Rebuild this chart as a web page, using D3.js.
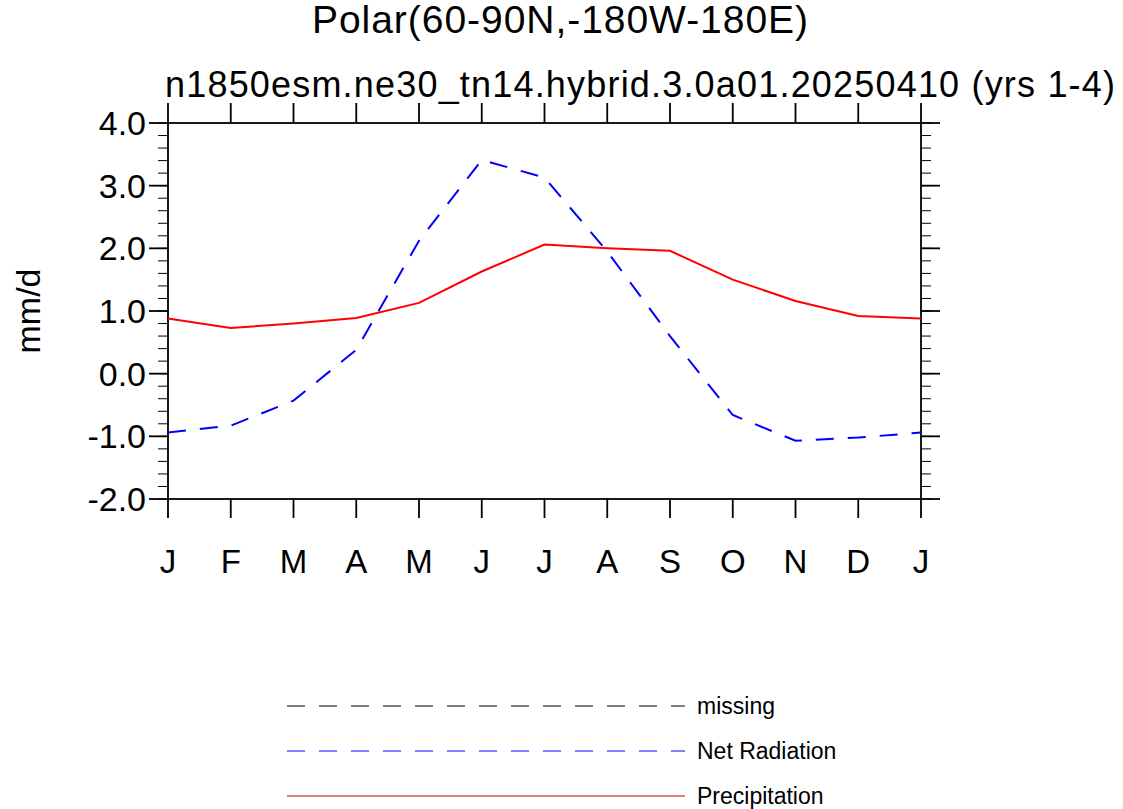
<!DOCTYPE html><html><head><script src="https://cdn.jsdelivr.net/npm/d3@7"></script>
<style>body{margin:0;background:#fff}text{font-family:"Liberation Sans",Arial,sans-serif}</style></head><body>
<svg id="c" width="1123" height="809"></svg>
<script>
const months=["J","F","M","A","M","J","J","A","S","O","N","D","J"];
const precip=[0.88,0.73,0.80,0.89,1.13,1.63,2.06,2.00,1.96,1.50,1.16,0.92,0.88];
const netrad=[-0.94,-0.83,-0.43,0.38,2.12,3.41,3.13,1.95,0.60,-0.66,-1.07,-1.02,-0.94];
const yTicks=[-2,-1,0,1,2,3,4];
const svg=d3.select("#c");
const L=168,R=921,T=123,B=499;
const x=d3.scaleLinear().domain([0,12]).range([L,R]);
const y=d3.scaleLinear().domain([-2,4]).range([B,T]);
const g=svg.append("g");
const minor=d3.range(-2,4.001,0.2);
minor.forEach(v=>{
 g.append("line").attr("x1",L-10).attr("x2",L).attr("y1",y(v)).attr("y2",y(v)).attr("stroke","#000");
 g.append("line").attr("x1",R).attr("x2",R+10).attr("y1",y(v)).attr("y2",y(v)).attr("stroke","#000");
});
yTicks.forEach(v=>{
 g.append("line").attr("x1",L-19).attr("x2",L).attr("y1",y(v)).attr("y2",y(v)).attr("stroke","#000").attr("stroke-width",1.8);
 g.append("line").attr("x1",R).attr("x2",R+19).attr("y1",y(v)).attr("y2",y(v)).attr("stroke","#000").attr("stroke-width",1.8);
 g.append("text").attr("x",L-22).attr("y",y(v)+12).attr("text-anchor","end").attr("font-size",34).text(v.toFixed(1));
});
months.forEach((m,i)=>{
 g.append("line").attr("x1",x(i)).attr("x2",x(i)).attr("y1",B).attr("y2",B+19).attr("stroke","#000").attr("stroke-width",1.8);
 g.append("line").attr("x1",x(i)).attr("x2",x(i)).attr("y1",T-20).attr("y2",T).attr("stroke","#000").attr("stroke-width",1.8);
 g.append("text").attr("x",x(i)).attr("y",573).attr("text-anchor","middle").attr("font-size",33).text(m);
});
g.append("rect").attr("x",L).attr("y",T).attr("width",R-L).attr("height",B-T).attr("fill","none").attr("stroke","#000").attr("stroke-width",1.8);
const line=d3.line().x((d,i)=>x(i)).y(d=>y(d));
g.append("path").attr("d",line(precip)).attr("fill","none").attr("stroke","#f00").attr("stroke-width",2);
g.append("path").attr("d",line(netrad)).attr("fill","none").attr("stroke","#00f").attr("stroke-width",2).attr("stroke-dasharray","18,14");
svg.append("text").attr("x",560).attr("y",33).attr("text-anchor","middle").attr("font-size",39).attr("textLength",496).text("Polar(60-90N,-180W-180E)");
svg.append("text").attr("x",640).attr("y",97).attr("text-anchor","middle").attr("font-size",36).attr("textLength",950).text("n1850esm.ne30_tn14.hybrid.3.0a01.20250410 (yrs 1-4)");
svg.append("text").attr("transform","translate(40,311) rotate(-90)").attr("text-anchor","middle").attr("font-size",34).text("mm/d");
const leg=[["missing","#000","18,14",706],["Net Radiation","#00f","18,14",751],["Precipitation","#c00","",796]];
leg.forEach(l=>{
 svg.append("line").attr("x1",287).attr("x2",685).attr("y1",l[3]).attr("y2",l[3]).attr("stroke",l[1]).attr("stroke-width",1.2).attr("stroke-dasharray",l[2]);
 svg.append("text").attr("x",697).attr("y",l[3]+8).attr("font-size",23).text(l[0]);
});
</script></body></html>
